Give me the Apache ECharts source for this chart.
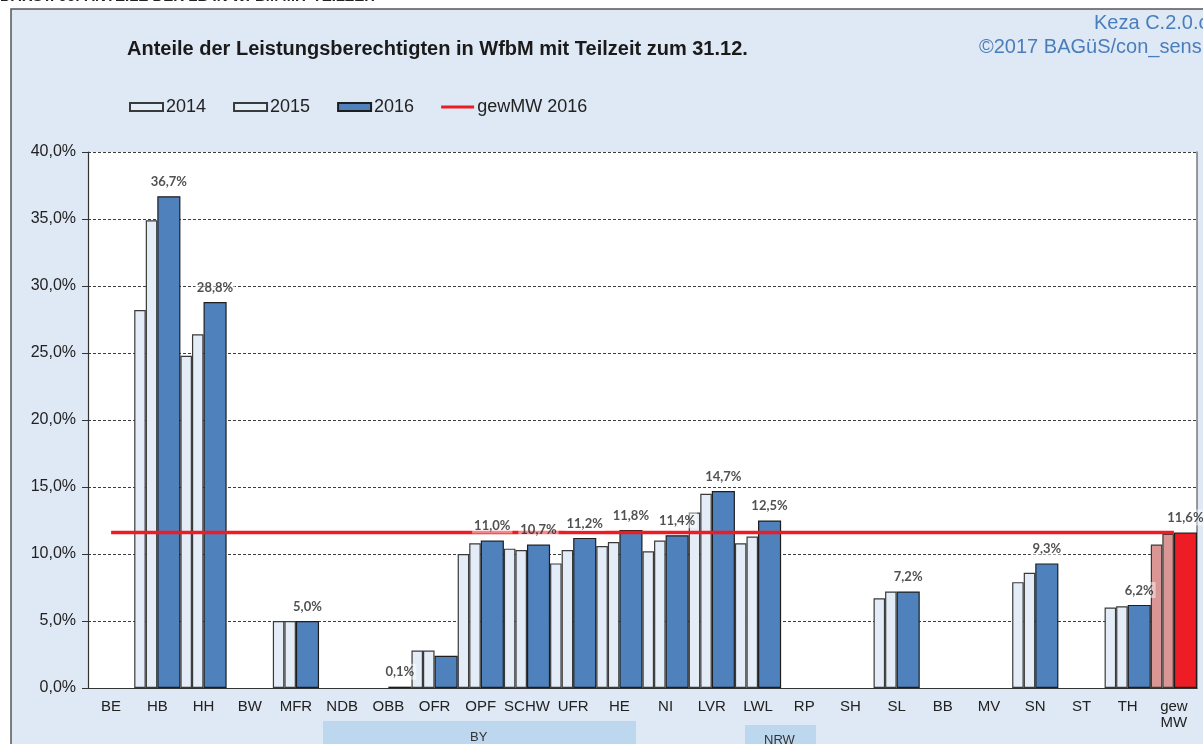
<!DOCTYPE html>
<html>
<head>
<meta charset="utf-8">
<title>Anteile der Leistungsberechtigten in WfbM mit Teilzeit</title>
<script src="https://cdn.jsdelivr.net/npm/echarts@6/dist/echarts.min.js"></script>
<style>
  html, body { margin: 0; padding: 0; background: #fff; }
  #chart { width: 1203px; height: 744px; }
</style>
</head>
<body>
<div id="chart"></div>
<script>
// Daten
const categories = ['BE', 'HB', 'HH', 'BW', 'MFR', 'NDB', 'OBB', 'OFR', 'OPF', 'SCHW', 'UFR', 'HE',
  'NI', 'LVR', 'LWL', 'RP', 'SH', 'SL', 'BB', 'MV', 'SN', 'ST', 'TH', 'gew\nMW']
const values2014 = [null, 28.2, 24.8, null, 5.0, null, null, 2.8, 10.0, 10.4, 9.3, 10.6,
  10.2, 13.1, 10.8, null, null, 6.7, null, null, 7.9, null, 6.0, 10.7]
const values2015 = [null, 34.9, 26.4, null, 5.0, null, null, 2.8, 10.8, 10.3, 10.3, 10.9,
  11.0, 14.5, 11.3, null, null, 7.2, null, null, 8.6, null, 6.1, 11.5]
const values2016 = [null, 36.7, 28.8, null, 5.0, null, 0.1, 2.4, 11.0, 10.7, 11.2, 11.8,
  11.4, 14.7, 12.5, null, null, 7.2, null, null, 9.3, null, 6.2, 11.6]
const gewMW2016 = 11.6
// in der Vorlage ohne Beschriftung
const unlabelled = ['OFR']
const yTicks = { min: 0, max: 40, interval: 5 }

const fmt = v => v.toFixed(1).replace('.', ',') + '%'
const isMW = i => categories[i] === 'gew\nMW'

// Mittelwert-Balken rot einfärben
const barData = (values, mwColor) => values.map((v, i) =>
  isMW(i) ? { value: v, itemStyle: { color: mwColor } } : v)

const labelData = values2016.map((v, i) =>
  unlabelled.includes(categories[i]) ? { value: v, label: { show: false } } : v)

const chart = echarts.init(document.getElementById('chart'))

const option = {
  animation: false,
  textStyle: { fontFamily: 'Liberation Sans, Arial, sans-serif' },
  title: {
    text: 'Anteile der Leistungsberechtigten in WfbM mit Teilzeit zum 31.12.',
    left: 122,
    top: 34,
    textStyle: { fontSize: 20, fontWeight: 'bold', color: '#1a1a1a' }
  },
  legend: {
    left: 124,
    top: 93,
    icon: 'rect',
    itemWidth: 33,
    itemHeight: 8,
    itemGap: 27,
    textStyle: { fontSize: 18, color: '#222', padding: [0, 0, 0, -2] },
    data: [
      '2014',
      '2015',
      '2016',
      { name: 'gewMW 2016', icon: 'path://M0,0H33V3.2H0Z', itemStyle: { color: '#ed1c24', borderWidth: 0 } }
    ]
  },
  grid: {
    left: 88,
    right: 6,
    top: 152,
    bottom: 56,
    show: true,
    backgroundColor: '#fff',
    borderWidth: 0
  },
  xAxis: {
    type: 'category',
    data: categories,
    axisLine: { lineStyle: { color: '#333', width: 1.2 } },
    axisTick: { length: 5, lineStyle: { color: '#333' } },
    axisLabel: { interval: 0, fontSize: 15, color: '#222', margin: 11, lineHeight: 16 }
  },
  yAxis: [
    {
      type: 'value',
      min: yTicks.min,
      max: yTicks.max,
      interval: yTicks.interval,
      axisLine: { show: true, lineStyle: { color: '#333', width: 1.2 } },
      axisTick: { show: true, length: 6, lineStyle: { color: '#333' } },
      axisLabel: { formatter: fmt, fontSize: 16, color: '#222', margin: 12 },
      splitLine: { lineStyle: { color: '#3c3c3c', type: [3, 2], width: 1 } }
    },
    {
      // rechter Rahmen
      type: 'value',
      position: 'right',
      min: yTicks.min,
      max: yTicks.max,
      interval: yTicks.interval,
      axisLine: { show: true, lineStyle: { color: '#7a7a7a', width: 1.5 } },
      axisTick: { show: false },
      axisLabel: { show: false },
      splitLine: { show: false }
    }
  ],
  series: [
    {
      name: '2014',
      type: 'bar',
      z: 2,
      barWidth: '25%',
      barGap: '0%',
      data: barData(values2014, '#d99694'),
      itemStyle: { color: '#e3ecf7', borderColor: '#3a3a3a', borderWidth: 1.2 }
    },
    {
      name: '2015',
      type: 'bar',
      z: 2,
      barWidth: '25%',
      barGap: '0%',
      data: barData(values2015, '#d99694'),
      itemStyle: { color: '#e3ecf7', borderColor: '#3a3a3a', borderWidth: 1.2 }
    },
    {
      name: '2016',
      type: 'bar',
      z: 2,
      barWidth: '50%',
      barGap: '0%',
      data: barData(values2016, '#ee1c25'),
      itemStyle: { color: '#4f81bd', borderColor: '#1e1e1e', borderWidth: 1.2 }
    },
    {
      name: 'gewMW 2016',
      type: 'line',
      z: 3,
      symbol: 'none',
      data: categories.map(() => gewMW2016),
      lineStyle: { color: '#ed1c24', width: 3.5 },
      itemStyle: { color: '#ed1c24' }
    },
    {
      // Beschriftung der 2016er Balken, über der Linie
      name: 'labels',
      type: 'scatter',
      z: 4,
      symbolSize: 0,
      silent: true,
      data: labelData,
      label: {
        show: true,
        position: 'top',
        distance: 7,
        offset: [11.5, 0],
        formatter: p => fmt(p.value),
        fontFamily: 'Lato, sans-serif',
        fontWeight: 'bold',
        fontSize: 13,
        color: '#262626',
        backgroundColor: 'rgba(255,255,255,0.6)',
        padding: [2, 2, 1, 2]
      }
    }
  ],
  graphic: [
    {
      type: 'rect',
      z: -10,
      shape: { x: 11, y: 9, width: 1200, height: 745 },
      style: { fill: '#dfe9f5', stroke: '#555', lineWidth: 1.5 }
    },
    {
      type: 'text',
      left: 0,
      top: -11,
      style: { text: 'DARST. 66: ANTEILE DER LB IN WFBM MIT TEILZEIT', fontSize: 15, fontWeight: 'bold', fill: '#222' }
    },
    {
      type: 'text',
      left: 1094,
      top: 13,
      style: { text: 'Keza C.2.0.c', fontSize: 20, fill: '#4a7ebb' }
    },
    {
      type: 'text',
      left: 979,
      top: 37,
      style: { text: '©2017 BAGüS/con_sens', fontSize: 20, fill: '#4a7ebb' }
    },
    // Gruppen unter der Achse
    {
      type: 'rect',
      z: -5,
      shape: { x: 323, y: 721, width: 313, height: 30 },
      style: { fill: '#bdd7ee' }
    },
    {
      type: 'text',
      left: 470,
      top: 731,
      style: { text: 'BY', fontSize: 13, fill: '#333' }
    },
    {
      type: 'rect',
      z: -5,
      shape: { x: 745, y: 725, width: 71, height: 30 },
      style: { fill: '#bdd7ee' }
    },
    {
      type: 'text',
      left: 764,
      top: 734,
      style: { text: 'NRW', fontSize: 13, fill: '#333' }
    }
  ]
}

chart.setOption(option)
</script>
</body>
</html>
